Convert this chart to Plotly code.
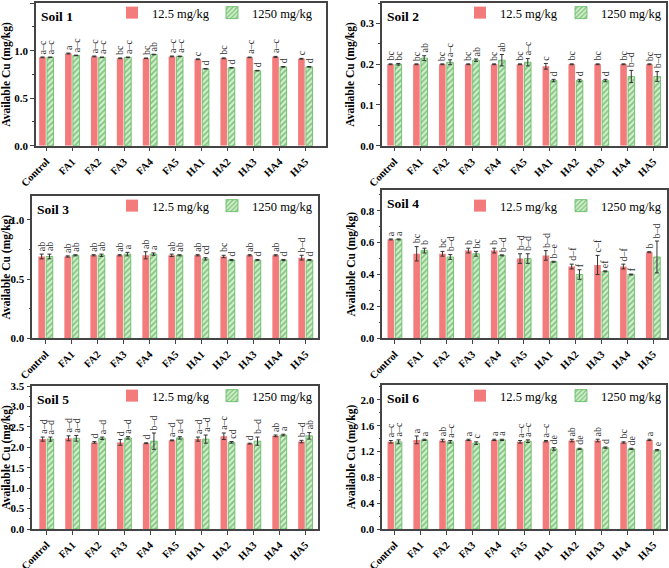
import plotly.graph_objects as go

categories = ["Control", "FA1", "FA2", "FA3", "FA4", "FA5", "HA1", "HA2", "HA3", "HA4", "HA5"]
soil_names = ["Soil 1", "Soil 2", "Soil 3", "Soil 4", "Soil 5", "Soil 6"]
series_names = ["12.5 mg/kg", "1250 mg/kg"]

# Soil 1
s1_low = [0.93, 0.97, 0.94, 0.92, 0.92, 0.94, 0.91, 0.92, 0.93, 0.935, 0.915]
s1_low_err = [0.004, 0.005, 0.004, 0.004, 0.003, 0.004, 0.004, 0.004, 0.003, 0.005, 0.004]
s1_low_let = ["a–c", "a", "a–c", "bc", "bc", "a–c", "c", "bc", "a–c", "a–c", "c"]
s1_high = [0.93, 0.95, 0.93, 0.93, 0.96, 0.94, 0.81, 0.82, 0.79, 0.83, 0.83]
s1_high_err = [0.003, 0.003, 0.003, 0.003, 0.003, 0.003, 0.003, 0.003, 0.003, 0.003, 0.003]
s1_high_let = ["a–c", "a–c", "a–c", "a–c", "ab", "a–c", "d", "d", "d", "d", "d"]

# Soil 2
s2_low = [0.200, 0.200, 0.200, 0.200, 0.200, 0.200, 0.195, 0.200, 0.200, 0.200, 0.200]
s2_low_err = [0.001, 0.001, 0.001, 0.001, 0.001, 0.001, 0.007, 0.001, 0.001, 0.001, 0.001]
s2_low_let = ["bc", "bc", "bc", "bc", "bc", "bc", "c", "bc", "bc", "bc", "bc"]
s2_high = [0.200, 0.215, 0.205, 0.210, 0.210, 0.205, 0.160, 0.160, 0.160, 0.170, 0.170]
s2_high_err = [0.002, 0.006, 0.006, 0.003, 0.014, 0.009, 0.003, 0.003, 0.003, 0.015, 0.012]
s2_high_let = ["bc", "ab", "a–c", "ab", "ab", "a–c", "d", "d", "d", "b–d", "b–d"]

# Soil 3
s3_low = [0.69, 0.69, 0.70, 0.70, 0.70, 0.70, 0.70, 0.69, 0.70, 0.70, 0.68]
s3_low_err = [0.02, 0.005, 0.005, 0.005, 0.03, 0.01, 0.005, 0.01, 0.005, 0.005, 0.02]
s3_low_let = ["ab", "ab", "ab", "ab", "ab", "ab", "ab", "bc", "ab", "ab", "b–d"]
s3_high = [0.69, 0.70, 0.70, 0.71, 0.71, 0.70, 0.67, 0.66, 0.66, 0.66, 0.66]
s3_high_err = [0.02, 0.005, 0.01, 0.015, 0.01, 0.005, 0.01, 0.005, 0.005, 0.005, 0.005]
s3_high_let = ["ab", "ab", "ab", "a", "a", "ab", "cd", "d", "d", "d", "d"]

# Soil 4
s4_low = [0.62, 0.53, 0.53, 0.55, 0.55, 0.50, 0.52, 0.45, 0.46, 0.45, 0.54]
s4_low_err = [0.003, 0.045, 0.015, 0.015, 0.015, 0.03, 0.03, 0.015, 0.06, 0.015, 0.003]
s4_low_let = ["a", "bc", "bc", "b", "b", "b–d", "b–d", "d–f", "c–f", "d–f", "b"]
s4_high = [0.62, 0.55, 0.51, 0.53, 0.52, 0.50, 0.48, 0.40, 0.42, 0.40, 0.51]
s4_high_err = [0.003, 0.015, 0.015, 0.015, 0.003, 0.03, 0.003, 0.03, 0.003, 0.003, 0.10]
s4_high_let = ["a", "b", "b–d", "bc", "b–d", "b–d", "b–e", "f", "ef", "f", "b–d"]

# Soil 5
s5_low = [2.20, 2.22, 2.12, 2.12, 2.10, 2.17, 2.20, 2.27, 2.09, 2.28, 2.14]
s5_low_err = [0.05, 0.06, 0.02, 0.07, 0.01, 0.01, 0.05, 0.08, 0.01, 0.02, 0.03]
s5_low_let = ["a–d", "a–d", "d", "d", "d", "a–d", "a–d", "a–c", "d", "ab", "b–d"]
s5_high = [2.20, 2.22, 2.22, 2.23, 2.15, 2.23, 2.20, 2.12, 2.15, 2.30, 2.28]
s5_high_err = [0.05, 0.07, 0.03, 0.03, 0.20, 0.03, 0.10, 0.02, 0.10, 0.02, 0.08]
s5_high_let = ["a–d", "a–d", "a–d", "a–d", "b–d", "a–d", "a–d", "cd", "b–d", "a", "ab"]

# Soil 6
s6_low = [1.35, 1.38, 1.37, 1.38, 1.38, 1.35, 1.36, 1.37, 1.37, 1.34, 1.38]
s6_low_err = [0.02, 0.06, 0.02, 0.01, 0.01, 0.02, 0.01, 0.02, 0.02, 0.01, 0.01]
s6_low_let = ["a–c", "a", "ab", "a", "a", "a–c", "a–c", "ab", "ab", "bc", "a"]
s6_high = [1.35, 1.38, 1.35, 1.33, 1.38, 1.36, 1.24, 1.24, 1.26, 1.24, 1.22]
s6_high_err = [0.03, 0.01, 0.02, 0.02, 0.01, 0.02, 0.02, 0.01, 0.01, 0.01, 0.01]
s6_high_let = ["a–c", "a", "a–c", "c", "a", "a–c", "de", "de", "d", "de", "e"]

y_ranges = [[0, 1.5], [0, 0.35], [0, 1.2], [0, 0.93], [0, 3.5], [0, 2.23]]
y_dticks = [0.5, 0.1, 0.5, 0.2, 0.5, 0.4]

panels = [
    (s1_low, s1_low_err, s1_low_let, s1_high, s1_high_err, s1_high_let),
    (s2_low, s2_low_err, s2_low_let, s2_high, s2_high_err, s2_high_let),
    (s3_low, s3_low_err, s3_low_let, s3_high, s3_high_err, s3_high_let),
    (s4_low, s4_low_err, s4_low_let, s4_high, s4_high_err, s4_high_let),
    (s5_low, s5_low_err, s5_low_let, s5_high, s5_high_err, s5_high_let),
    (s6_low, s6_low_err, s6_low_let, s6_high, s6_high_err, s6_high_let),
]

# layout geometry (pixels)
W, H = 669, 568
plot_px = [  # left, right, top, bottom
    (36, 326, 3.2, 145.7),
    (382, 666, 3.2, 145.7),
    (32.3, 318.3, 196, 338.3),
    (382.3, 667.3, 190, 338.3),
    (32.3, 318.3, 386, 529),
    (382.3, 665.7, 385, 529),
]
x_ranges = [[-0.40, 10.8], [-0.48, 10.49], [-0.51, 10.49], [-0.48, 10.55], [-0.55, 10.5], [-0.48, 10.48]]
legend_px = [  # red symbol left, green symbol left, center y
    (133, 233, 13), (481, 582, 13),
    (133, 233, 206), (481, 582, 206),
    (133, 233, 396), (481, 582, 396),
]

FONT = "Liberation Serif, Times New Roman, serif"
RED = "#F47B7B"
GREEN_BG = "#d3efcb"
GREEN_FG = "#2f9a3a"
AXC = "#444444"

fig = go.Figure()
annotations = []
layout = dict(
    width=W, height=H, margin=dict(l=0, r=0, t=0, b=0, autoexpand=False),
    paper_bgcolor="white", plot_bgcolor="white",
    barmode="group", bargap=0.4, bargroupgap=0.15,
    font=dict(family=FONT, color="black"),
)

for i, (lo, lo_e, lo_l, hi, hi_e, hi_l) in enumerate(panels):
    n = i + 1
    xa = "x" if n == 1 else f"x{n}"
    ya = "y" if n == 1 else f"y{n}"
    lg_r = f"legend{2 * n}"
    lg_g = f"legend{2 * n + 1}"
    fig.add_trace(go.Bar(
        x=categories, y=lo, name=series_names[0], xaxis=xa, yaxis=ya, legend=lg_r,
        marker=dict(color=RED, line=dict(width=0)),
        error_y=dict(type="data", array=lo_e, color="#333333", thickness=1, width=2),
    ))
    fig.add_trace(go.Bar(
        x=categories, y=hi, name=series_names[1], xaxis=xa, yaxis=ya, legend=lg_g,
        marker=dict(color=GREEN_BG, line=dict(width=0.8, color="#5cb85c"),
                    pattern=dict(shape="/", fgcolor=GREEN_FG, bgcolor=GREEN_BG, size=4, solidity=0.45)),
        error_y=dict(type="data", array=hi_e, color="#333333", thickness=1, width=2),
    ))
    l, r, t, b = plot_px[i]
    key = "" if n == 1 else str(n)
    layout["xaxis" + key] = dict(
        domain=[l / W, r / W], anchor=ya, range=x_ranges[i], type="category", automargin=False,
        showline=True, linecolor=AXC, linewidth=1.5, mirror=True,
        ticks="outside", ticklen=4, tickwidth=1, tickcolor=AXC,
        tickangle=-45, tickfont=dict(family=FONT, size=10.5, color="black", weight="bold"),
        showgrid=False, zeroline=False,
    )
    layout["yaxis" + key] = dict(
        domain=[1 - b / H, 1 - t / H], anchor=xa, range=y_ranges[i], automargin=False,
        dtick=y_dticks[i], tick0=0, tickformat=".1f",
        showline=True, linecolor=AXC, linewidth=1.5, mirror=True,
        ticks="outside", ticklen=4, tickwidth=1, tickcolor=AXC,
        minor=dict(dtick=y_dticks[i] / 2, ticks="outside", ticklen=2, tickcolor=AXC),
        tickfont=dict(family=FONT, size=11, color="black", weight="bold"),
        title=dict(text="Available Cu (mg/kg)", font=dict(family=FONT, size=11.5, color="black", weight="bold"), standoff=3),
        showgrid=False, zeroline=False,
    )
    rx, gx, cy = legend_px[i]
    for lg, sx in ((lg_r, rx), (lg_g, gx)):
        layout[lg] = dict(
            x=(sx - 21) / W, y=1 - cy / H, xanchor="left", yanchor="middle",
            orientation="h", bgcolor="rgba(0,0,0,0)", borderwidth=0,
            font=dict(family=FONT, size=12.5, color="black"), itemwidth=30,
        )
    annotations.append(dict(
        text=soil_names[i], xref=f"{xa} domain", yref=f"{ya} domain", x=0, y=1,
        xanchor="left", yanchor="top", xshift=3, yshift=-4, showarrow=False,
        font=dict(family=FONT, size=13.5, color="black", weight="bold"),
    ))
    for vals, errs, lets, off in ((lo, lo_e, lo_l, -0.15), (hi, hi_e, hi_l, 0.15)):
        for j, (v, e, s) in enumerate(zip(vals, errs, lets)):
            annotations.append(dict(
                text=s, xref=xa, yref=ya, x=j + off, y=v + e, xanchor="center", yanchor="bottom",
                textangle=-90, showarrow=False, yshift=1,
                font=dict(family=FONT, size=10, color="#333333"),
            ))

layout["annotations"] = annotations
fig.update_layout(**layout)
fig.write_html(
    "out.html",
    config={"displayModeBar": False},
    post_script="document.body.style.margin='0px';document.body.style.overflow='hidden';",
)
